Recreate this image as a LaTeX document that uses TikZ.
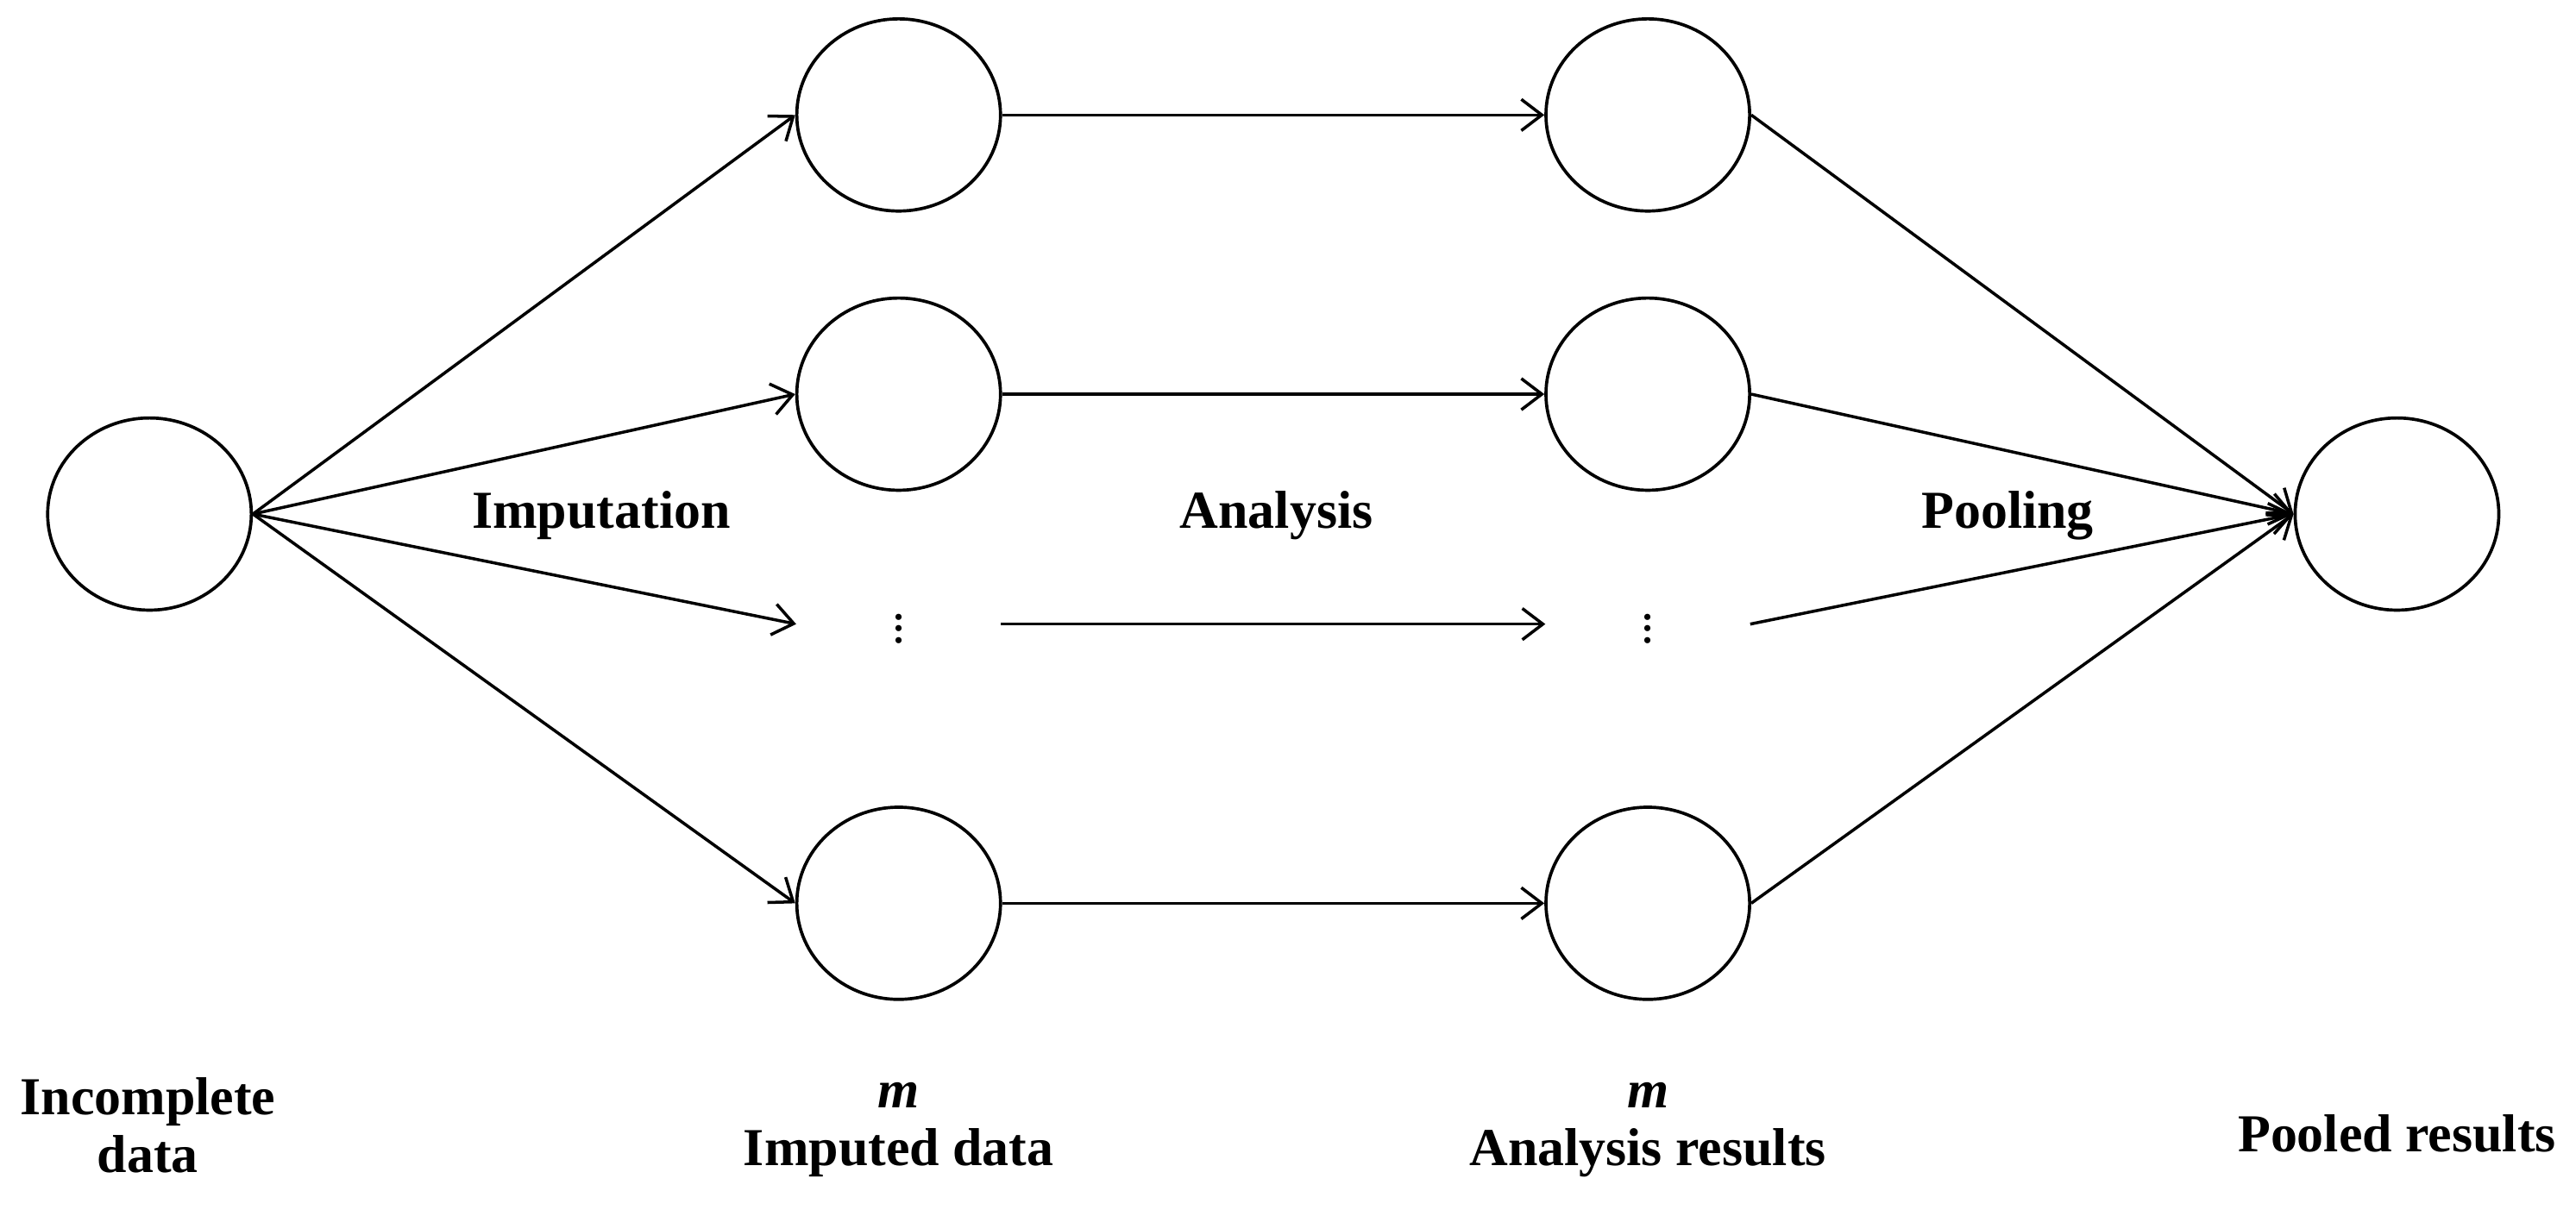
\documentclass[tikz,border=0pt]{standalone}
\usepackage{fontspec}
\setmainfont{Liberation Serif}
\usepackage{tikz}
\usetikzlibrary{positioning,shapes.geometric,arrows.meta}
\tikzset{
  datanode/.style={
    draw,
    ellipse,
    minimum width=24.8mm,
    minimum height=23.4mm,
    inner sep=0pt,
    line width=1.1pt,
  },
  gapnode/.style={
    ellipse,
    minimum width=24.8mm,
    minimum height=23.4mm,
    inner sep=0pt,
    font=\fontsize{18}{20}\selectfont,
  },
  flow/.style={line width=1.05pt, -{Straight Barb[length=2.5mm,width=3.8mm]}},
  steplabel/.style={font=\fontsize{18.5}{22}\selectfont\bfseries},
  notelabel/.style={font=\fontsize{18.5}{20}\selectfont\bfseries, align=center},
}

\begin{document}
\begin{tikzpicture}
  \useasboundingbox (0,0) rectangle (31.36,14.8);
  \node[datanode] (inc) at (1.82,8.54) {};
  \node[datanode] (pool) at (29.18,8.54) {};
  \foreach \r/\y in {1/13.4, 2/10.0, 3/3.8} {
    \node[datanode] (imp\r) at (10.94,\y) {};
    \node[datanode] (ana\r) at (20.06,\y) {};
  }
  \node[gapnode] (impd) at (10.94,7.2) {\raisebox{3pt}{$\vdots$}};
  \node[gapnode] (anad) at (20.06,7.2) {\raisebox{3pt}{$\vdots$}};
  \foreach \r in {1,2,d,3} {
    \draw[flow] (inc.east) -- (imp\r.west);
    \draw[flow] (imp\r.east) -- (ana\r.west);
    \draw[flow] (ana\r.east) -- (pool.west);
  }
  \node[steplabel] (imputation) at (7.32,8.52) {Imputation};
  \node[steplabel] (analysis) at (15.54,8.52) {Analysis};
  \node[steplabel] (pooling) at (24.44,8.52) {Pooling};
  \node[notelabel] (inctext) at (1.8,1.1) {Incomplete\\data};
  \node[notelabel] (imptext) at (10.94,1.04) {\textit{m}\\Imputed data};
  \node[notelabel] (anatext) at (20.06,1.04) {\textit{m}\\Analysis results};
  \node[notelabel] (pooltext) at (29.18,1.0) {Pooled results};
\end{tikzpicture}
\end{document}
